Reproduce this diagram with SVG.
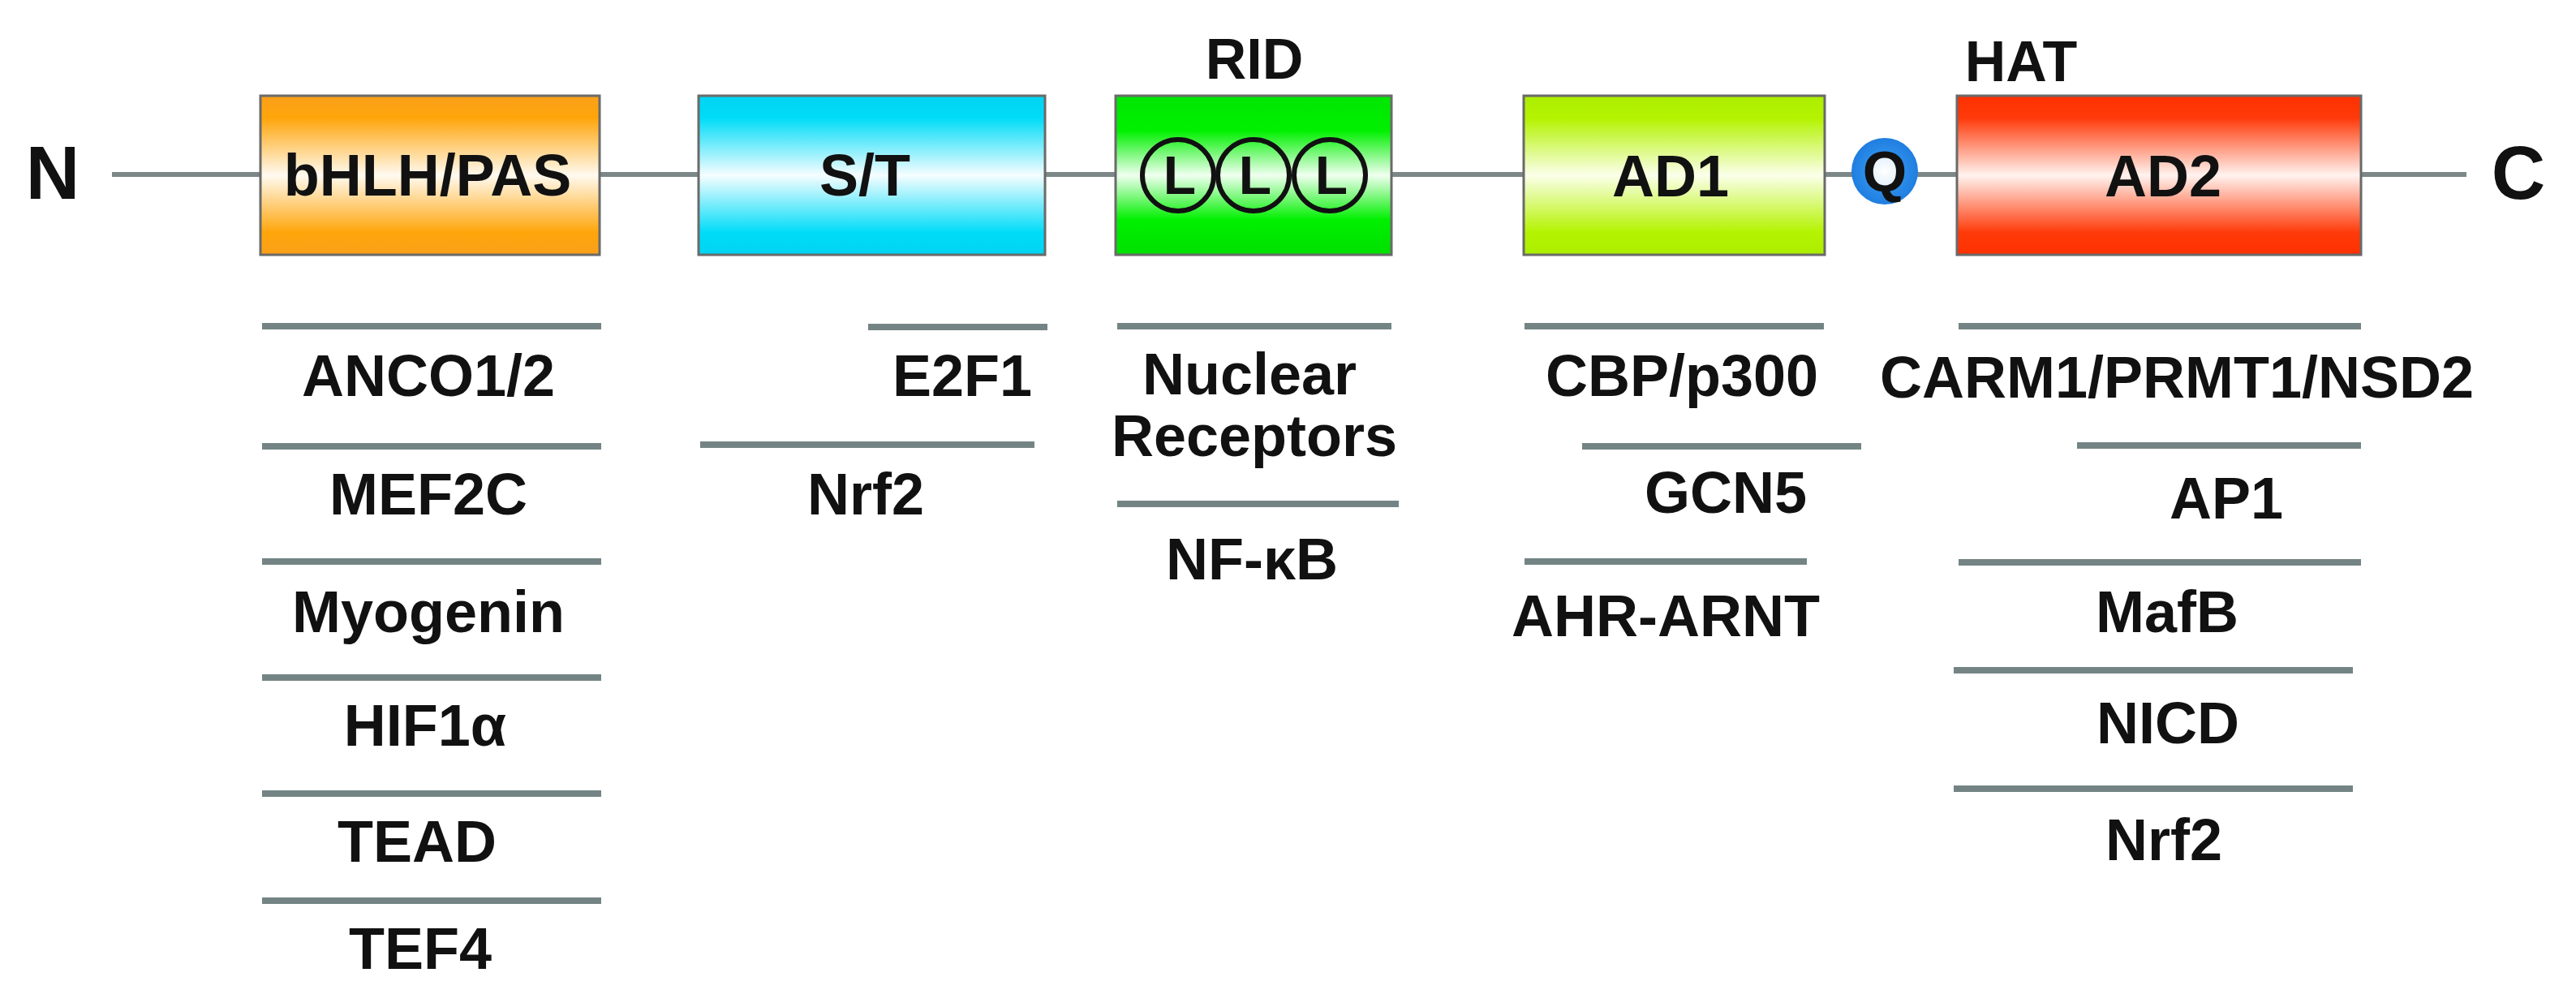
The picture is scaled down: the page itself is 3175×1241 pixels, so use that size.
<svg xmlns="http://www.w3.org/2000/svg" width="3175" height="1241" viewBox="0 0 3175 1241">
<style>
text{font-family:"Liberation Sans",Arial,sans-serif;font-weight:bold;fill:#111;text-anchor:middle}
.lbl{font-size:72px}
.box{stroke:#6a6a6a;stroke-width:3}
.bind{stroke:#748484;stroke-width:8;stroke-linecap:butt}
.bb{stroke:#7c8888;stroke-width:6}
.term{font-size:92px}
.circ{fill:none;stroke:#111;stroke-width:6}
.ll{font-size:66px}
</style>
<defs>
<linearGradient id="gOr" x1="0" y1="0" x2="0" y2="1">
<stop offset="0" stop-color="#f9a01a"/><stop offset="0.14" stop-color="#ffa50a"/><stop offset="0.5" stop-color="#fffaf0"/><stop offset="0.86" stop-color="#ffa50a"/><stop offset="1" stop-color="#f9a01a"/>
</linearGradient>
<linearGradient id="gCy" x1="0" y1="0" x2="0" y2="1">
<stop offset="0" stop-color="#00d4f2"/><stop offset="0.14" stop-color="#00dcf8"/><stop offset="0.5" stop-color="#f6fdff"/><stop offset="0.86" stop-color="#00dcf8"/><stop offset="1" stop-color="#00d4f2"/>
</linearGradient>
<linearGradient id="gGr" x1="0" y1="0" x2="0" y2="1">
<stop offset="0" stop-color="#00e600"/><stop offset="0.22" stop-color="#00f000"/><stop offset="0.5" stop-color="#f0fff0"/><stop offset="0.78" stop-color="#00f000"/><stop offset="1" stop-color="#00e000"/>
</linearGradient>
<linearGradient id="gLi" x1="0" y1="0" x2="0" y2="1">
<stop offset="0" stop-color="#acee00"/><stop offset="0.14" stop-color="#b4f300"/><stop offset="0.5" stop-color="#fbffea"/><stop offset="0.86" stop-color="#b4f300"/><stop offset="1" stop-color="#acee00"/>
</linearGradient>
<linearGradient id="gRd" x1="0" y1="0" x2="0" y2="1">
<stop offset="0" stop-color="#ff3000"/><stop offset="0.14" stop-color="#ff3a0a"/><stop offset="0.5" stop-color="#fff3ef"/><stop offset="0.86" stop-color="#ff3a0a"/><stop offset="1" stop-color="#ff3000"/>
</linearGradient>
<radialGradient id="gQ" cx="0.5" cy="0.5" r="0.5">
<stop offset="0" stop-color="#ffffff"/><stop offset="0.42" stop-color="#e6f1fc"/><stop offset="0.52" stop-color="#2f8fea"/><stop offset="1" stop-color="#1f7ee0"/>
</radialGradient>
</defs>
<rect width="3175" height="1241" fill="#ffffff"/>
<g id="connectors">
<line class="bb" x1="138" y1="215" x2="3040" y2="215"/>
</g>
<g id="terminal-N"><text class="term" x="65" y="245">N</text></g>
<g id="terminal-C"><text class="term" x="3104" y="245">C</text></g>
<g id="bHLH-PAS">
<rect class="box" x="321" y="118" width="418" height="196" fill="url(#gOr)"/>
<text class="lbl" x="527" y="241">bHLH/PAS</text>
</g>
<g id="ST">
<rect class="box" x="861" y="118" width="427" height="196" fill="url(#gCy)"/>
<text class="lbl" x="1066" y="241">S/T</text>
</g>
<g id="RID">
<text class="lbl" x="1546" y="97" style="font-size:70px">RID</text>
<rect class="box" x="1375" y="118" width="340" height="196" fill="url(#gGr)"/>
<circle class="circ" cx="1452" cy="216" r="44"/>
<circle class="circ" cx="1545" cy="216" r="44"/>
<circle class="circ" cx="1639" cy="216" r="44"/>
<text class="ll" x="1454" y="239">L</text>
<text class="ll" x="1547" y="239">L</text>
<text class="ll" x="1641" y="239">L</text>
</g>
<g id="AD1">
<rect class="box" x="1878" y="118" width="371" height="196" fill="url(#gLi)"/>
<text class="lbl" x="2059" y="242">AD1</text>
</g>
<g id="Q">
<circle cx="2323" cy="211" r="41" fill="url(#gQ)"/>
<text x="2323" y="236" style="font-size:70px">Q</text>
</g>
<g id="AD2">
<text class="lbl" x="2491" y="100" style="font-size:70px">HAT</text>
<rect class="box" x="2412" y="118" width="498" height="196" fill="url(#gRd)"/>
<text class="lbl" x="2666" y="242">AD2</text>
</g>
<g id="partners-bHLH">
<line class="bind" x1="323" y1="402" x2="741" y2="402"/>
<text class="lbl" x="528" y="488">ANCO1/2</text>
<line class="bind" x1="323" y1="550" x2="741" y2="550"/>
<text class="lbl" x="528" y="634">MEF2C</text>
<line class="bind" x1="323" y1="692" x2="741" y2="692"/>
<text class="lbl" x="528" y="779">Myogenin</text>
<line class="bind" x1="323" y1="835" x2="741" y2="835"/>
<text class="lbl" x="524" y="919">HIF1α</text>
<line class="bind" x1="323" y1="978" x2="741" y2="978"/>
<text class="lbl" x="514" y="1062">TEAD</text>
<line class="bind" x1="323" y1="1110" x2="741" y2="1110"/>
<text class="lbl" x="518" y="1194">TEF4</text>
</g>
<g id="partners-ST">
<line class="bind" x1="1070" y1="403" x2="1291" y2="403"/>
<text class="lbl" x="1186" y="488">E2F1</text>
<line class="bind" x1="863" y1="548" x2="1275" y2="548"/>
<text class="lbl" x="1067" y="634">Nrf2</text>
</g>
<g id="partners-RID">
<line class="bind" x1="1377" y1="402" x2="1715" y2="402"/>
<text class="lbl" x="1540" y="486">Nuclear</text>
<text class="lbl" x="1546" y="562">Receptors</text>
<line class="bind" x1="1377" y1="621" x2="1724" y2="621"/>
<text class="lbl" x="1543" y="714">NF-κB</text>
</g>
<g id="partners-AD1">
<line class="bind" x1="1879" y1="402" x2="2248" y2="402"/>
<text class="lbl" x="2073" y="488">CBP/p300</text>
<line class="bind" x1="1950" y1="550" x2="2294" y2="550"/>
<text class="lbl" x="2127" y="632">GCN5</text>
<line class="bind" x1="1879" y1="692" x2="2227" y2="692"/>
<text class="lbl" x="2053" y="784">AHR-ARNT</text>
</g>
<g id="partners-AD2">
<line class="bind" x1="2414" y1="402" x2="2910" y2="402"/>
<text class="lbl" x="2683" y="490">CARM1/PRMT1/NSD2</text>
<line class="bind" x1="2560" y1="549" x2="2910" y2="549"/>
<text class="lbl" x="2744" y="639">AP1</text>
<line class="bind" x1="2414" y1="693" x2="2910" y2="693"/>
<text class="lbl" x="2671" y="779">MafB</text>
<line class="bind" x1="2408" y1="826" x2="2900" y2="826"/>
<text class="lbl" x="2672" y="916">NICD</text>
<line class="bind" x1="2408" y1="972" x2="2900" y2="972"/>
<text class="lbl" x="2667" y="1060">Nrf2</text>
</g>
</svg>
